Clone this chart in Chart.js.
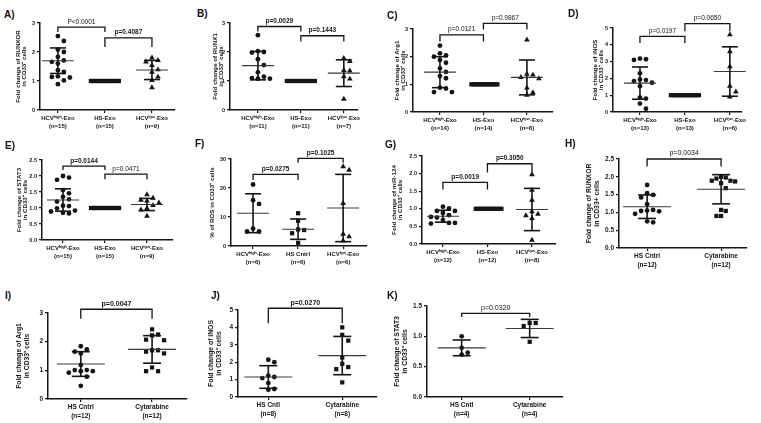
<!DOCTYPE html>
<html>
<head>
<meta charset="utf-8">
<script src="https://cdn.jsdelivr.net/npm/chart.js@4.4.1/dist/chart.umd.min.js"></script>
<style>
  body { margin: 0; background: #fff; }
  #fig { position: relative; width: 761px; height: 423px; overflow: hidden; font-family: 'Liberation Sans', Arial, sans-serif; }
  #fig canvas { position: absolute; }
  .tag { position: absolute; font-weight: bold; font-size: 10px; line-height: 10px; color: #111; }
</style>
</head>
<body>
<div id="fig"></div>
<script>
// group names
const exoGroups = ['HCVʰⁱᵍʰ-Exo', 'HS-Exo', 'HCVˡᵒʷ-Exo'];
const rosGroups = ['HCVʰⁱᵍʰ-Exo', 'HS Cntrl', 'HCVˡᵒʷ-Exo'];
const cytGroups = ['HS Cntrl', 'Cytarabine'];
const cytGroupsB = ['HS Cntl', 'Cytarabine'];

// A) RUNXOR
const aHigh = [2.55, 2.38, 2.08, 2.0, 1.83, 1.71, 1.66, 1.6, 1.37, 1.31, 1.16, 1.14, 1.12, 1.02, 0.89];
const aHs = [1, 1, 1, 1, 1, 1, 1, 1, 1, 1, 1, 1, 1, 1, 1];
const aLow = [1.8, 1.71, 1.66, 1.54, 1.39, 1.31, 1.14, 1.02, 0.77];
const aMean = [1.7, null, 1.38];
const aSd = [0.44, null, 0.33];
const aBrackets = [[1, 2, 2.86, 2.69, 'P<0.0001'], [2, 3, 2.49, 2.17, 'p=0.4087']];

// B) RUNX1
const bHigh = [2.58, 2.03, 2.0, 1.98, 1.75, 1.55, 1.3, 1.15, 1.1, 1.08, 1.08];
const bHs = [1, 1, 1, 1, 1, 1, 1, 1, 1, 1, 1];
const bLow = [1.78, 1.68, 1.37, 1.35, 1.15, 1.07, 0.38];
const bMean = [1.53, null, 1.27];
const bSd = [0.49, null, 0.46];
const bBrackets = [[1, 2, 2.88, 2.71, 'p=0.0029'], [2, 3, 2.56, 2.36, 'p=0.1443']];

// C) Arg1
const cHigh = [2.4, 2.12, 2.05, 2.0, 1.88, 1.78, 1.58, 1.45, 1.3, 1.22, 0.88, 0.85, 0.72, 0.72];
const cHs = [1, 1, 1, 1, 1, 1, 1, 1, 1, 1, 1, 1, 1, 1];
const cLow = [2.61, 1.37, 1.34, 1.25, 1.21, 0.87, 0.7, 0.61];
const cMean = [1.44, null, 1.25];
const cSd = [0.56, null, 0.63];
const cBrackets = [[1, 2, 2.79, 2.55, 'p=0.0121'], [2, 3, 3.2, 2.98, 'p=0.9867']];

// D) iNOS
const dHigh = [3.18, 3.14, 3.1, 2.3, 1.94, 1.9, 1.84, 1.74, 1.54, 0.86, 0.8, 0.5, 0.2];
const dHs = [1, 1, 1, 1, 1, 1, 1, 1, 1, 1, 1, 1, 1];
const dLow = [4.6, 3.6, 2.7, 1.54, 1.2, 0.9];
const dMean = [1.72, null, 2.41];
const dSd = [0.96, null, 1.47];
const dBrackets = [[1, 2, 4.5, 4.1, 'p=0.0197'], [2, 3, 5.26, 4.8, 'p=0.0650']];

// E) STAT3
const eHigh = [2.0, 1.95, 1.88, 1.56, 1.46, 1.35, 1.27, 1.2, 1.07, 1.06, 0.99, 0.92, 0.89, 0.85, 0.83];
const eHs = [1, 1, 1, 1, 1, 1, 1, 1, 1, 1, 1, 1, 1, 1, 1];
const eLow = [1.42, 1.31, 1.25, 1.22, 1.16, 1.08, 0.99, 0.94, 0.75];
const eMean = [1.25, null, 1.11];
const eSd = [0.35, null, 0.19];
const eBrackets = [[1, 2, 2.31, 2.19, 'p=0.0144'], [2, 3, 2.06, 1.9, 'p=0.0471']];

// F) ROS %
const fHigh = [21.2, 15.8, 14.5, 6.0, 5.0, 5.0];
const fHs = [11.3, 8.7, 5.7, 5.5, 4.4, 1.1];
const fLow = [27.4, 26.2, 14.7, 4.1, 3.2, 1.8];
const fMean = [11.3, 5.8, 13.1];
const fSd = [6.7, 3.5, 11.6];
const fBrackets = [[1, 2, 24.7, 22.8, 'p=0.0275'], [2, 3, 30.2, 28.7, 'p=0.1025']];

// G) miR-124
const gHigh = [1.06, 1.01, 0.94, 0.94, 0.88, 0.82, 0.77, 0.75, 0.68, 0.6, 0.6, 0.58];
const gHs = [1, 1, 1, 1, 1, 1, 1, 1, 1, 1, 1, 1];
const gLow = [1.97, 1.53, 1.25, 0.92, 0.85, 0.81, 0.73, 0.11];
const gMean = [0.79, null, 0.98];
const gSd = [0.17, null, 0.6];
const gBrackets = [[1, 2, 1.75, 1.55, 'p=0.0019'], [2, 3, 2.28, 2.03, 'p=0.3050']];

// H) RUNXOR, cytarabine
const hCntrl = [1.77, 1.54, 1.49, 1.42, 1.23, 1.07, 1.05, 1.04, 1.03, 0.96, 0.75, 0.72];
const hCyt = [2.0, 1.98, 1.95, 1.89, 1.89, 1.87, 1.82, 1.68, 1.07, 1.04, 0.9, 0.9];
const hMean = [1.16, 1.65];
const hSd = [0.33, 0.41];
const hBrackets = [[1, 2, 2.5, 2.29, 'p=0.0034']];

// I) Arg1, cytarabine
const iCntrl = [1.84, 1.73, 1.65, 1.59, 1.19, 1.01, 1.01, 0.97, 0.97, 0.92, 0.78, 0.46];
const iCyt = [2.43, 2.25, 2.22, 2.07, 2.05, 1.7, 1.7, 1.65, 1.59, 1.1, 0.97, 0.97];
const iMean = [1.22, 1.73];
const iSd = [0.43, 0.48];
const iBrackets = [[1, 2, 3.13, 2.8, 'p=0.0047']];

// J) iNOS, cytarabine
const jCntrl = [2.14, 2.0, 1.22, 1.15, 1.09, 0.8, 0.46, 0.42];
const jCyt = [4.0, 3.57, 3.24, 2.27, 1.91, 1.72, 1.6, 0.84];
const jMean = [1.15, 2.38];
const jSd = [0.65, 1.1];
const jBrackets = [[1, 2, 5.1, 4.24, 'p=0.0270']];

// K) STAT3, cytarabine
const kCntrl = [1.0, 0.81, 0.73, 0.7];
const kCyt = [1.22, 1.22, 1.17, 0.91];
const kMean = [0.81, 1.13];
const kSd = [0.13, 0.15];
const kBrackets = [[1, 2, 1.38, 1.32, 'p=0.0320']];

const ink = '#151515';
const fig = document.getElementById('fig');
Chart.defaults.font.family = "'Liberation Sans', Arial, sans-serif";
const cd33 = 'in CD33⁺ cells';

// spread points of one group sideways like a column scatter
function swarm(vals, pxX, pxY, diam, maxHalf) {
    const order = vals.map((v, i) => i).sort((a, b) => vals[b] - vals[a]);
    const placed = [];
    const off = vals.map(() => 0);
    order.forEach(i => {
        const yy = vals[i] * pxY;
        for (let k = 0; k < 60; k++) {
            const dx = (k % 2 ? 1 : -1) * Math.ceil(k / 2) * diam;
            if (placed.every(q => Math.hypot(q.x - dx, q.y - yy) >= diam)) {
                off[i] = dx;
                placed.push({ x: dx, y: yy });
                break;
            }
        }
    });
    const m = Math.max(...off.map(Math.abs));
    const s = m > maxHalf ? maxHalf / m : 1;
    return off.map(o => o * s / pxX);
}

function makePanel(p) {
    const padTop = 24, padRight = 8, xh = 32;
    const left = p.ax - p.yw, top = p.at - padTop;
    const w = p.ar + padRight - left, h = p.ab + xh - top;
    const cv = document.createElement('canvas');
    cv.width = w; cv.height = h;
    cv.style.left = left + 'px';
    cv.style.top = top + 'px';
    fig.appendChild(cv);

    const f = p.big ? { tick: 6.5, title: 6.8, tlh: 1.05, x: 6.5, p: 7, mw: 24, cw: 9 }
                    : { tick: 5.5, title: 6.2, tlh: 1.0, x: 6, p: 6.5, mw: 16, cw: 8 };
    const pxX = (p.ar - p.ax) / (p.xmax - p.xmin);
    const pxY = (p.ab - p.at) / p.ymax;

    const datasets = p.values.map((vals, i) => {
        const jit = swarm(vals, pxX, pxY, 6, 14);
        const mk = p.marks[i];
        return {
            data: vals.map((v, j) => ({ x: i + 1 + jit[j], y: v })),
            pointStyle: mk,
            pointRadius: mk === 'circle' ? 2.4 : (mk === 'rect' ? 3 : 3.3),
            pointBackgroundColor: ink,
            pointBorderWidth: 0,
            clip: false
        };
    });

    const overlay = {
        id: 'overlay',
        afterDatasetsDraw(chart) {
            const { ctx, scales: { x, y } } = chart;
            const seg = (x1, y1, x2, y2) => { ctx.beginPath(); ctx.moveTo(x1, y1); ctx.lineTo(x2, y2); ctx.stroke(); };
            ctx.save();
            p.mean.forEach((m, i) => {
                if (m == null) return;
                const cx = x.getPixelForValue(i + 1);
                const my = y.getPixelForValue(m);
                const hi = y.getPixelForValue(m + p.sd[i]);
                const lo = y.getPixelForValue(m - p.sd[i]);
                ctx.strokeStyle = '#3a3a3a';
                ctx.lineWidth = 1.1;
                seg(cx - f.mw, my, cx + f.mw, my);
                ctx.strokeStyle = ink;
                ctx.lineWidth = 1.6;
                seg(cx, hi, cx, lo);
                seg(cx - f.cw, hi, cx + f.cw, hi);
                seg(cx - f.cw, lo, cx + f.cw, lo);
            });
            p.brackets.forEach((b, k) => {
                const x1 = x.getPixelForValue(b[0]), x2 = x.getPixelForValue(b[1]);
                const yt = y.getPixelForValue(b[2]), yl = y.getPixelForValue(b[3]);
                ctx.strokeStyle = ink;
                ctx.lineWidth = 1.3;
                ctx.beginPath();
                ctx.moveTo(x1, yl); ctx.lineTo(x1, yt); ctx.lineTo(x2, yt); ctx.lineTo(x2, yl);
                ctx.stroke();
                ctx.fillStyle = ink;
                ctx.font = (p.boldP[k] ? 'bold ' : '') + f.p + "px 'Liberation Sans', Arial, sans-serif";
                ctx.textAlign = 'center';
                ctx.textBaseline = 'bottom';
                ctx.fillText(b[4], (x1 + x2) / 2, yt - 2);
            });
            ctx.restore();
        }
    };

    new Chart(cv, {
        type: 'scatter',
        data: { datasets },
        options: {
            responsive: false,
            animation: false,
            events: [],
            layout: { padding: { top: padTop, right: padRight, left: 0, bottom: 0 } },
            plugins: { legend: { display: false }, tooltip: { enabled: false } },
            scales: {
                x: {
                    type: 'linear', min: p.xmin, max: p.xmax,
                    afterBuildTicks: s => { s.ticks = p.groups.map((g, i) => ({ value: i + 1 })); },
                    afterFit: s => { s.height = xh; },
                    ticks: {
                        autoSkip: false, maxRotation: 0, padding: 1, color: ink,
                        font: { size: f.x, weight: 'bold', lineHeight: 1.35 },
                        callback: v => [p.groups[v - 1], '(n=' + p.values[v - 1].length + ')']
                    },
                    grid: { drawOnChartArea: false, drawTicks: true, tickLength: 3, color: ink, lineWidth: 1.2 },
                    border: { color: ink, width: 1.5 }
                },
                y: {
                    min: 0, max: p.ymax,
                    afterFit: s => { s.width = p.yw; },
                    ticks: { stepSize: p.step, padding: 2, color: ink, font: { size: f.tick, weight: 'bold' },
                             callback: v => v.toFixed(p.dec) },
                    grid: { drawOnChartArea: false, drawTicks: true, tickLength: 3, color: ink, lineWidth: 1.2 },
                    border: { color: ink, width: 1.5 },
                    title: { display: true, text: p.title, color: ink, padding: { top: 0, bottom: 0 },
                             font: { size: f.title, weight: 'bold', lineHeight: f.tlh } }
                }
            }
        },
        plugins: [overlay]
    });
}

const tri = ['circle', 'rect', 'triangle'];
const duo = ['circle', 'rect'];

const panels = [
    { tag: 'A)', tx: 4, ty: 10, ax: 40, ar: 175, at: 23, ab: 110, yw: 25, xmin: 0.62, xmax: 3.49, ymax: 3, step: 1, dec: 0,
      title: ['Fold change of RUNXOR', cd33], groups: exoGroups, values: [aHigh, aHs, aLow], marks: tri,
      mean: aMean, sd: aSd, brackets: aBrackets, boldP: [false, true] },
    { tag: 'B)', tx: 197, ty: 9, ax: 230, ar: 358, at: 23, ab: 110, yw: 18, xmin: 0.35, xmax: 3.33, ymax: 3, step: 1, dec: 0,
      title: ['Fold change of RUNX1', cd33], groups: exoGroups, values: [bHigh, bHs, bLow], marks: tri,
      mean: bMean, sd: bSd, brackets: bBrackets, boldP: [true, true] },
    { tag: 'C)', tx: 387, ty: 11, ax: 413, ar: 553, at: 29, ab: 112, yw: 19, xmin: 0.38, xmax: 3.6, ymax: 3, step: 1, dec: 0,
      title: ['Fold change of Arg1', cd33], groups: exoGroups, values: [cHigh, cHs, cLow], marks: tri,
      mean: cMean, sd: cSd, brackets: cBrackets, boldP: [false, false] },
    { tag: 'D)', tx: 568, ty: 9, ax: 613, ar: 742, at: 28, ab: 112, yw: 21, xmin: 0.4, xmax: 3.27, ymax: 5, step: 1, dec: 0,
      title: ['Fold change of iNOS', cd33], groups: exoGroups, values: [dHigh, dHs, dLow], marks: tri,
      mean: dMean, sd: dSd, brackets: dBrackets, boldP: [false, false] },
    { tag: 'E)', tx: 5, ty: 141, ax: 42, ar: 173, at: 160, ab: 240, yw: 26, xmin: 0.5, xmax: 3.62, ymax: 2.5, step: 0.5, dec: 1,
      title: ['Fold change of STAT3', cd33], groups: exoGroups, values: [eHigh, eHs, eLow], marks: tri,
      mean: eMean, sd: eSd, brackets: eBrackets, boldP: [true, false] },
    { tag: 'F)', tx: 195, ty: 139, ax: 231, ar: 367, at: 159, ab: 246, yw: 22, xmin: 0.51, xmax: 3.53, ymax: 30, step: 10, dec: 0,
      title: '% of ROS in CD33⁺ cells', groups: rosGroups, values: [fHigh, fHs, fLow], marks: tri,
      mean: fMean, sd: fSd, brackets: fBrackets, boldP: [true, true] },
    { tag: 'G)', tx: 385, ty: 140, ax: 422, ar: 556, at: 156, ab: 244, yw: 31, xmin: 0.53, xmax: 3.54, ymax: 2.5, step: 0.5, dec: 1,
      title: ['Fold change of miR-124', cd33], groups: exoGroups, values: [gHigh, gHs, gLow], marks: tri,
      mean: gMean, sd: gSd, brackets: gBrackets, boldP: [true, true] },
    { tag: 'H)', tx: 565, ty: 139, ax: 619, ar: 747, at: 159, ab: 248, yw: 33, xmin: 0.62, xmax: 2.35, ymax: 2.5, step: 0.5, dec: 1,
      big: true, title: ['Fold change of RUNXOR', 'in CD33+ cells'], groups: cytGroups, values: [hCntrl, hCyt], marks: duo,
      mean: hMean, sd: hSd, brackets: hBrackets, boldP: [false] },
    { tag: 'I)', tx: 5, ty: 291, ax: 48, ar: 187, at: 313, ab: 399, yw: 32, xmin: 0.54, xmax: 2.49, ymax: 3, step: 1, dec: 0,
      big: true, title: ['Fold change of Arg1', cd33], groups: cytGroups, values: [iCntrl, iCyt], marks: duo,
      mean: iMean, sd: iSd, brackets: iBrackets, boldP: [true] },
    { tag: 'J)', tx: 211, ty: 291, ax: 238, ar: 377, at: 310, ab: 397, yw: 30, xmin: 0.59, xmax: 2.47, ymax: 5, step: 1, dec: 0,
      big: true, title: ['Fold change of iNOS', cd33], groups: cytGroupsB, values: [jCntrl, jCyt], marks: duo,
      mean: jMean, sd: jSd, brackets: jBrackets, boldP: [true] },
    { tag: 'K)', tx: 387, ty: 291, ax: 427, ar: 563, at: 306, ab: 397, yw: 33, xmin: 0.49, xmax: 2.49, ymax: 1.5, step: 0.5, dec: 1,
      big: true, title: ['Fold change of STAT3', cd33], groups: cytGroupsB, values: [kCntrl, kCyt], marks: duo,
      mean: kMean, sd: kSd, brackets: kBrackets, boldP: [false] }
];

panels.forEach(p => {
    makePanel(p);
    const t = document.createElement('div');
    t.className = 'tag';
    t.textContent = p.tag;
    t.style.left = p.tx + 'px';
    t.style.top = p.ty + 'px';
    fig.appendChild(t);
});
</script>
</body>
</html>
